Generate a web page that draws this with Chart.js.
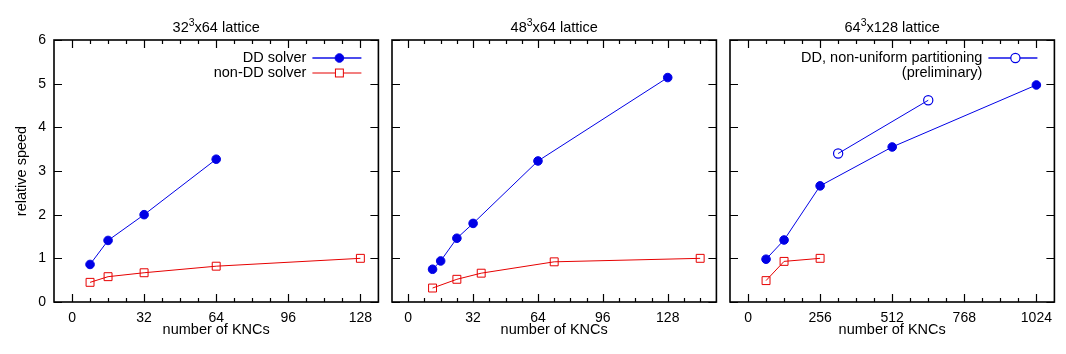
<!DOCTYPE html>
<html>
<head>
<meta charset="utf-8">
<script src="https://cdn.jsdelivr.net/npm/chart.js@4/dist/chart.umd.min.js"></script>
<style>
  body { margin: 0; background: #fff; }
  #wrap { position: relative; width: 1066px; height: 354px; }
  .panel { position: absolute; top: 0; height: 354px; }
</style>
</head>
<body>
<div id="wrap">
  <div class="panel" style="left:0;width:385px"><canvas id="c1"></canvas></div>
  <div class="panel" style="left:385px;width:338px"><canvas id="c2"></canvas></div>
  <div class="panel" style="left:723px;width:338px"><canvas id="c3"></canvas></div>
</div>
<script>
// 32^3x64
const knc32DD = [8, 16, 32, 64];
const speed32DD = [0.86, 1.41, 2.0, 3.27];
const knc32Non = [8, 16, 32, 64, 128];
const speed32Non = [0.45, 0.58, 0.67, 0.82, 1.0];
// 48^3x64
const knc48DD = [12, 16, 24, 32, 64, 128];
const speed48DD = [0.75, 0.94, 1.46, 1.80, 3.23, 5.14];
const knc48Non = [12, 24, 36, 72, 144];
const speed48Non = [0.32, 0.52, 0.66, 0.92, 1.0];
// 64^3x128
const knc64DD = [64, 128, 256, 512, 1024];
const speed64DD = [0.98, 1.42, 2.66, 3.55, 4.97];
const knc64Non = [64, 128, 256];
const speed64Non = [0.49, 0.93, 1.0];
const knc64NU = [320, 640];
const speed64NU = [3.40, 4.62];

const yTicks = [0, 1, 2, 3, 4, 5, 6];
const xTicks1 = [0, 32, 64, 96, 128];
const xTicks2 = [0, 32, 64, 96, 128];
const xTicks3 = [0, 256, 512, 768, 1024];

const BLUE = '#0000e6';
const RED = '#e60000';
const FONT = "'Liberation Sans', Arial, sans-serif";

function pts(xs, ys) {
  return xs.map((x, i) => ({ x: x, y: ys[i] }));
}

function ddSet(xs, ys, label) {
  return {
    label: label, data: pts(xs, ys), borderColor: BLUE, backgroundColor: BLUE,
    borderWidth: 1, pointStyle: 'circle', pointRadius: 4.3, pointBorderWidth: 1
  };
}
function nonSet(xs, ys, label) {
  return {
    label: label, data: pts(xs, ys), borderColor: RED, backgroundColor: 'transparent',
    borderWidth: 1, pointStyle: 'rect', pointRadius: 5.6, pointBorderWidth: 1
  };
}
function nuSet(xs, ys, label) {
  return {
    label: label, data: pts(xs, ys), borderColor: BLUE, backgroundColor: 'transparent',
    borderWidth: 1, pointStyle: 'circle', pointRadius: 4.6, pointBorderWidth: 1.2
  };
}

// frame, inward ticks on all sides, title and gnuplot-like legend
const framePlugin = {
  id: 'frame',
  afterDatasetsDraw(chart, args, opts) {
    const ctx = chart.ctx;
    const a = chart.chartArea;
    const xs = chart.scales.x, ys = chart.scales.y;
    ctx.save();
    ctx.strokeStyle = '#000';
    ctx.lineWidth = 1.2;
    ctx.beginPath();
    opts.yTicks.forEach(v => {
      const p = Math.round(ys.getPixelForValue(v)) + 0.5;
      ctx.moveTo(a.left, p); ctx.lineTo(a.left + 8, p);
      ctx.moveTo(a.right, p); ctx.lineTo(a.right - 8, p);
    });
    for (let v = xs.min + opts.minor; v < xs.max; v += opts.minor) {
      const len = opts.xTicks.includes(v) ? 8 : 4;
      const p = Math.round(xs.getPixelForValue(v)) + 0.5;
      ctx.moveTo(p, a.bottom); ctx.lineTo(p, a.bottom - len);
      ctx.moveTo(p, a.top); ctx.lineTo(p, a.top + len);
    }
    ctx.stroke();
    ctx.lineWidth = 1.6;
    ctx.strokeRect(a.left, a.top, a.right - a.left, a.bottom - a.top);

    // title: base, raised exponent, rest
    ctx.fillStyle = '#000';
    ctx.textBaseline = 'alphabetic';
    ctx.textAlign = 'left';
    const big = '14.5px ' + FONT, small = '10.5px ' + FONT;
    const [base, sup, rest] = opts.title;
    ctx.font = big;
    const wBase = ctx.measureText(base).width, wRest = ctx.measureText(rest).width;
    ctx.font = small;
    const wSup = ctx.measureText(sup).width;
    let tx = (a.left + a.right) / 2 - (wBase + wSup + wRest) / 2;
    const ty = 32;
    ctx.font = big; ctx.fillText(base, tx, ty); tx += wBase;
    ctx.font = small; ctx.fillText(sup, tx, ty - 6); tx += wSup;
    ctx.font = big; ctx.fillText(rest, tx, ty);

    // legend
    ctx.font = big;
    ctx.textAlign = 'right';
    ctx.textBaseline = 'middle';
    let row = 0;
    opts.legend.forEach(item => {
      const ds = chart.data.datasets[item.index];
      const y = a.top + 18 + row * 15;
      item.lines.forEach((t, k) => ctx.fillText(t, a.right - 72, y + k * 15));
      const x0 = a.right - 66, x1 = a.right - 17, xm = a.right - 39;
      ctx.strokeStyle = ds.borderColor;
      ctx.lineWidth = ds.borderColor === BLUE ? 1.8 : 1.2;
      ctx.globalAlpha = ds.borderColor === BLUE ? 0.7 : 1;
      ctx.beginPath(); ctx.moveTo(x0, y); ctx.lineTo(x1, y); ctx.stroke();
      ctx.globalAlpha = 1;
      ctx.lineWidth = ds.pointBorderWidth;
      if (ds.pointStyle === 'rect') {
        const s = ds.pointRadius * Math.SQRT1_2;
        ctx.fillStyle = '#fff';
        ctx.fillRect(xm - s, y - s, 2 * s, 2 * s);
        ctx.strokeRect(xm - s, y - s, 2 * s, 2 * s);
      } else {
        ctx.beginPath();
        ctx.arc(xm, y, ds.pointRadius, 0, Math.PI * 2);
        ctx.fillStyle = ds.backgroundColor !== 'transparent' ? ds.backgroundColor : '#fff';
        ctx.fill();
        ctx.stroke();
      }
      ctx.fillStyle = '#000';
      row += item.lines.length;
    });
    ctx.restore();
  }
};

function makeChart(id, datasets, cfg) {
  return new Chart(document.getElementById(id), {
    type: 'scatter',
    data: { datasets: datasets },
    plugins: [framePlugin],
    options: {
      responsive: true,
      maintainAspectRatio: false,
      animation: false,
      showLine: true,
      layout: { padding: { top: 40, right: cfg.padRight, bottom: 0, left: 0 } },
      plugins: {
        legend: { display: false },
        tooltip: { enabled: false },
        frame: { title: cfg.title, legend: cfg.legend, yTicks: yTicks, xTicks: cfg.xTicks, minor: cfg.minor }
      },
      scales: {
        x: {
          type: 'linear', min: cfg.xMin, max: cfg.xMax,
          grid: { display: false, drawTicks: false },
          border: { display: false },
          afterBuildTicks: s => { s.ticks = cfg.xTicks.map(v => ({ value: v })); },
          afterFit: s => { s.height = 52; },
          ticks: { color: '#000', font: { family: FONT, size: 14 }, padding: 8, maxRotation: 0,
                   callback: v => String(v) },
          title: { display: true, text: 'number of KNCs', color: '#000', font: { family: FONT, size: 14.5 }, padding: { top: 0, bottom: 15 } }
        },
        y: {
          type: 'linear', min: 0, max: 6,
          grid: { display: false, drawTicks: false },
          border: { display: false },
          afterBuildTicks: s => { s.ticks = yTicks.map(v => ({ value: v })); },
          afterFit: s => { s.width = cfg.yWidth; },
          ticks: { display: cfg.yLabels, color: '#000', font: { family: FONT, size: 14 }, padding: 8,
                   callback: v => String(v) },
          title: { display: cfg.yLabels, text: 'relative speed', color: '#000', font: { family: FONT, size: 14.5 }, padding: { top: 13, bottom: 0 } }
        }
      }
    }
  });
}

makeChart('c1',
  [ddSet(knc32DD, speed32DD, 'DD solver'), nonSet(knc32Non, speed32Non, 'non-DD solver')],
  { title: ['32', '3', 'x64 lattice'], xMin: -8, xMax: 136, xTicks: xTicks1, minor: 8, yWidth: 54, yLabels: true, padRight: 5,
    legend: [{ index: 0, lines: ['DD solver'] }, { index: 1, lines: ['non-DD solver'] }] });

makeChart('c2',
  [ddSet(knc48DD, speed48DD, 'DD solver'), nonSet(knc48Non, speed48Non, 'non-DD solver')],
  { title: ['48', '3', 'x64 lattice'], xMin: -8, xMax: 152, xTicks: xTicks2, minor: 8, yWidth: 7, yLabels: false, padRight: 5,
    legend: [] });

makeChart('c3',
  [ddSet(knc64DD, speed64DD, 'DD solver'), nonSet(knc64Non, speed64Non, 'non-DD solver'),
   nuSet(knc64NU, speed64NU, 'DD, non-uniform partitioning (preliminary)')],
  { title: ['64', '3', 'x128 lattice'], xMin: -64, xMax: 1088, xTicks: xTicks3, minor: 64, yWidth: 7, yLabels: false, padRight: 6,
    legend: [{ index: 2, lines: ['DD, non-uniform partitioning', '(preliminary)'] }] });
</script>
</body>
</html>
